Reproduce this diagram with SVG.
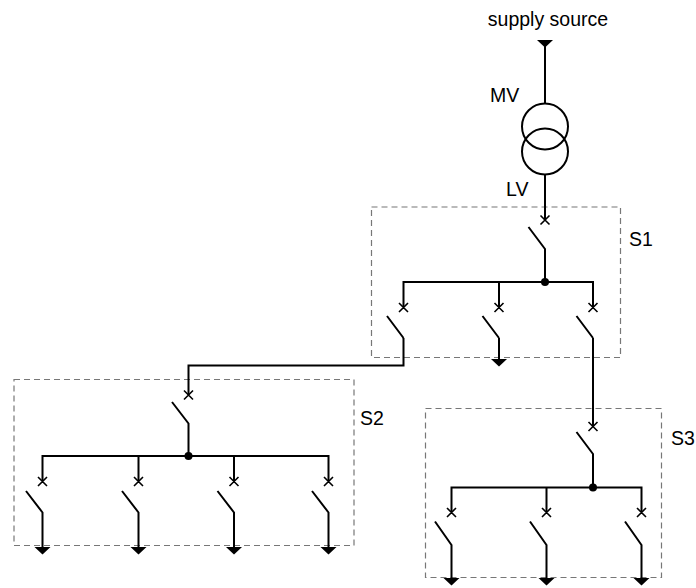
<svg xmlns="http://www.w3.org/2000/svg" width="696" height="588" viewBox="0 0 696 588">
<defs>
<style>
.w{fill:none;stroke:#000;stroke-width:2}
.x{fill:none;stroke:#000;stroke-width:1.6}
.box{fill:none;stroke:#777;stroke-width:1.2;stroke-dasharray:6,4}
.t{font-family:"Liberation Sans",Arial,sans-serif;font-size:19.5px;fill:#000}
.dot{fill:#000}
.tri{fill:#000}
</style>
</defs>
<rect width="696" height="588" fill="#fff"/>
<g id="boxes">
<rect id="S1-box" class="box" x="371.5" y="207" width="249" height="150.5"/>
<rect id="S2-box" class="box" x="14" y="379.5" width="340" height="166"/>
<rect id="S3-box" class="box" x="425.5" y="408.5" width="236" height="169"/>
</g>
<g id="source">
<text class="t" x="548" y="26" text-anchor="middle">supply source</text>
<polygon class="tri" points="537,40 553,40 545,47.5"/>
</g>
<g id="transformer">
<circle class="w" cx="545" cy="126.5" r="23"/>
<circle class="w" cx="545" cy="151.5" r="23"/>
<text class="t" x="490" y="102">MV</text>
<text class="t" x="506" y="196">LV</text>
</g>
<g id="connectors">
<path class="w" d="M545 40 V103.5 M545 174.5 V220"/>
<path class="w" d="M403.5 338 V365.5 H188.5 V395"/>
<path class="w" d="M499 338 V360"/>
<path class="w" d="M593 338 V426.5"/>
</g>
<g id="S1">
<text class="t" x="629" y="246">S1</text>
<path class="x" d="M540.5 215.5 L549.5 224.5 M549.5 215.5 L540.5 224.5"/>
<path class="w" d="M528.5 227 L545 249 V282 M403.5 307.5 V282 H593 V307.5 M499 282 V307.5"/>
<circle class="dot" cx="545" cy="282" r="4"/>
<path class="x" d="M399 303 L408 312 M408 303 L399 312 M494.5 303 L503.5 312 M503.5 303 L494.5 312 M588.5 303 L597.5 312 M597.5 303 L588.5 312"/>
<path class="w" d="M387 316 L403.5 338 M482.5 316 L499 338 M576.5 316 L593 338"/>
<polygon class="tri" points="491,359 507,359 499,366.5"/>
</g>
<g id="S2">
<text class="t" x="360" y="425">S2</text>
<path class="x" d="M184 390.5 L193 399.5 M193 390.5 L184 399.5"/>
<path class="w" d="M172 402 L188.5 423.5 V456 M42.5 481.5 V456 H328.5 V481.5 M138.5 456 V481.5 M234 456 V481.5"/>
<circle class="dot" cx="188.5" cy="456" r="4"/>
<path class="x" d="M38 477 L47 486 M47 477 L38 486 M134 477 L143 486 M143 477 L134 486 M229.5 477 L238.5 486 M238.5 477 L229.5 486 M324 477 L333 486 M333 477 L324 486"/>
<path class="w" d="M26 491 L42.5 512.5 V547 M122 491 L138.5 512.5 V547 M217.5 491 L234 512.5 V547 M312 491 L328.5 512.5 V547"/>
<polygon class="tri" points="34.5,547 50.5,547 42.5,554.5"/>
<polygon class="tri" points="130.5,547 146.5,547 138.5,554.5"/>
<polygon class="tri" points="226,547 242,547 234,554.5"/>
<polygon class="tri" points="320.5,547 336.5,547 328.5,554.5"/>
</g>
<g id="S3">
<text class="t" x="671" y="445">S3</text>
<path class="x" d="M588.5 422 L597.5 431 M597.5 422 L588.5 431"/>
<path class="w" d="M576.5 432 L593 454 V487.5 M451.5 512.5 V487.5 H641.5 V512.5 M546.5 487.5 V512.5"/>
<circle class="dot" cx="593" cy="487.5" r="4"/>
<path class="x" d="M447 508 L456 517 M456 508 L447 517 M542 508 L551 517 M551 508 L542 517 M637 508 L646 517 M646 508 L637 517"/>
<path class="w" d="M435 521.5 L451.5 545 V578.5 M530 521.5 L546.5 545 V578.5 M625 521.5 L641.5 545 V578.5"/>
<polygon class="tri" points="443.5,578 459.5,578 451.5,585.5"/>
<polygon class="tri" points="538.5,578 554.5,578 546.5,585.5"/>
<polygon class="tri" points="633.5,578 649.5,578 641.5,585.5"/>
</g>
</svg>
